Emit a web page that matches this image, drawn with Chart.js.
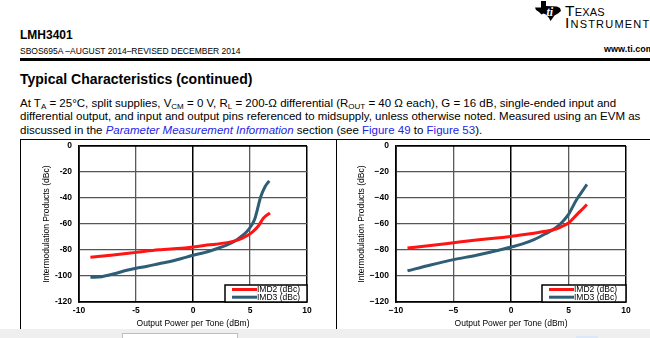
<!DOCTYPE html>
<html><head><meta charset="utf-8">
<script src="https://cdn.jsdelivr.net/npm/chart.js@4/dist/chart.umd.min.js"></script>
<style>
html,body{margin:0;padding:0;background:#fff;width:650px;height:338px;overflow:hidden;font-family:"Liberation Sans",Arial,sans-serif;color:#000}
.a{position:absolute;white-space:nowrap;line-height:1;margin:0}
.p{font-size:11.5px}
sub{font-size:8px;vertical-align:-2px;line-height:0}
.lnk{color:#2323e6}
canvas{position:absolute}
</style>
</head><body>
<svg class="a" style="left:535px;top:1px" width="28" height="20" viewBox="0 0 28 20">
  <path d="M6 0 L11 0 L11 5 L22 5.5 L25 7 L26 10 L23 12.5 L19.5 14.5 L17 18 L15.5 20 L14 17 L11 13.5 L8.5 12.5 L6.5 13.5 L4 11 L1 9 L0 6.5 L6 6.5 Z" fill="#000"/>
  <text x="11.5" y="14.5" font-family="Liberation Serif" font-style="italic" font-weight="bold" font-size="12" fill="#fff">ti</text>
</svg>
<div class="a" style="left:565px;top:3px;font-size:15.5px;font-variant:small-caps;letter-spacing:0.2px">Texas</div>
<div class="a" style="left:565px;top:15px;font-size:15.5px;font-variant:small-caps;letter-spacing:1.2px">Instruments</div>

<div class="a" style="left:20px;top:29px;font-size:12px;font-weight:bold">LMH3401</div>
<div class="a" style="left:20px;top:47px;font-size:8.5px">SBOS695A –AUGUST 2014–REVISED DECEMBER 2014</div>
<div class="a" style="left:604px;top:45px;font-size:9px;font-weight:bold">www.ti.com</div>
<div class="a" style="left:20px;top:57.5px;width:630px;height:3px;background:#000"></div>

<div class="a" style="left:20px;top:71.5px;font-size:14px;font-weight:bold">Typical Characteristics (continued)</div>
<div class="a p" style="left:20px;top:98px">At T<sub>A</sub> = 25°C, split supplies, V<sub>CM</sub> = 0 V, R<sub>L</sub> = 200-Ω differential (R<sub>OUT</sub> = 40 Ω each), G = 16 dB, single-ended input and</div>
<div class="a p" style="left:20px;top:111.3px">differential output, and input and output pins referenced to midsupply, unless otherwise noted. Measured using an EVM as</div>
<div class="a p" style="left:20px;top:124.5px">discussed in the <i class="lnk">Parameter Measurement Information</i> section (see <span class="lnk">Figure 49</span> to <span class="lnk">Figure 53</span>).</div>
<div class="a" style="left:20px;top:139px;width:630px;height:1px;background:#000"></div>
<div class="a" style="left:20px;top:139px;width:1px;height:191px;background:#000"></div>
<div class="a" style="left:336px;top:139px;width:1px;height:191px;background:#000"></div>

<canvas id="c1" width="314" height="195" style="left:21px;top:134px"></canvas>
<canvas id="c2" width="313" height="195" style="left:337px;top:134px"></canvas>

<div class="a" style="left:0;top:329px;width:650px;height:9px;background:#efefef"></div>
<div class="a" style="left:122px;top:333px;width:114px;height:8px;background:#fff;border:1px solid #bdbdbd"></div>
<div class="a" style="left:576px;top:336px;width:22px;height:4px;background:#dce8f7"></div>

<script>
// ---- data ----
const seriesNames = ['IMD2 (dBc)', 'IMD3 (dBc)'];
const xTickValues = [-10, -5, 0, 5, 10];
const yTickValues = [0, -20, -40, -60, -80, -100, -120];
const leftXTickLabels  = ['-10', '-5', '0', '5', '10'];
const leftYTickLabels  = ['0', '-20', '-40', '-60', '-80', '-100', '-120'];
const rightXTickLabels = ['\u221210', '\u22125', '0', '5', '10'];
const rightYTickLabels = ['0', '\u221220', '\u221240', '\u221260', '\u221280', '\u2212100', '\u2212120'];

const leftX_IMD2 = [-9, -7, -5, -3, -1, 0, 1, 2, 3, 3.75, 4.3, 4.85, 5.3, 5.73, 6.17, 6.75];
const leftY_IMD2 = [-85.5, -83.8, -81.8, -79.8, -78.6, -77.7, -76.5, -75.5, -74.3, -72.8, -71, -68.5, -65.5, -61.5, -55.6, -51.5];
const leftX_IMD3 = [-9, -8, -7, -6, -5, -4, -3, -2, -1, 0, 1, 2, 3, 3.75, 4.12, 4.71, 5.15, 5.44, 5.64, 5.94, 6.32, 6.69];
const leftY_IMD3 = [-101, -100.5, -98.5, -96, -94, -92.5, -90.5, -88.8, -86.5, -84, -82, -79.2, -76, -72.6, -70.3, -66, -60.8, -55.6, -49, -39, -31.3, -26.7];

const rightX_IMD2 = [-9, -7, -5, -3, -1, 0, 1, 2, 3, 3.9, 4.5, 5, 5.66, 6.1, 6.6];
const rightY_IMD2 = [-78.5, -76.5, -74.4, -72.3, -70.5, -69.5, -68.3, -67, -65.6, -63.8, -61.5, -59.2, -53.3, -49.5, -45];
const rightX_IMD3 = [-9, -7, -5, -3, -1, 0, 1, 2, 3, 3.9, 4.5, 5, 5.66, 6.1, 6.6];
const rightY_IMD3 = [-96, -91.5, -87.4, -84, -80, -77.7, -75.3, -72, -67.5, -62.8, -58, -52.6, -41.8, -36, -29.5];

const colors = ['#ff1414', '#2e5e75'];
const FONT = '"Liberation Sans", Arial, sans-serif';

function pts(xs, ys){ return xs.map((x,i)=>({x:x, y:ys[i]})); }

const insideLegend = {
  id: 'insideLegend',
  afterDraw(chart, args, o) {
    const ctx = chart.ctx, ca = chart.chartArea;
    const w = o.width, h = 17;
    const x0 = ca.right - w, y0 = ca.bottom - h;
    ctx.save();
    ctx.fillStyle = '#fff';
    ctx.fillRect(x0, y0, w, h);
    ctx.strokeStyle = '#000'; ctx.lineWidth = 1.5;
    ctx.strokeRect(x0, y0, w, h);
    ctx.font = '8.5px ' + FONT;
    ctx.textBaseline = 'middle';
    chart.data.datasets.forEach((ds, i) => {
      const yy = y0 + 4.5 + i * 7.7;
      ctx.strokeStyle = ds.borderColor; ctx.lineWidth = 3;
      ctx.beginPath(); ctx.moveTo(x0 + o.lineStart, yy); ctx.lineTo(x0 + o.lineStart + 25, yy); ctx.stroke();
      ctx.fillStyle = '#000';
      ctx.fillText(ds.label, x0 + o.lineStart + 25, yy + 0.5);
    });
    ctx.restore();
  }
};

function makeChart(id, d2, d3, xl, yl, target, legendW, lineStart, titlePad) {
  const geo = { yW: target.left, xH: 27 };
  const gridColor = (c) => {
    const v = c.tick.value;
    if (v === 0 || v === 10) return '#000';
    return '#5a5a5a';
  };
  const gridColorY = (c) => (c.tick.value === 0 ? '#000' : '#555');
  const canvas = document.getElementById(id);
  const pad = { left: 0, right: canvas.width - target.right, top: target.top, bottom: 0 };
  const opts = {
      responsive: false, animation: false, devicePixelRatio: 1,
      layout: { padding: pad },
      plugins: { legend: { display: false }, tooltip: { enabled: false },
        insideLegend: { width: legendW, lineStart: lineStart } },
      scales: {
        x: {
          type: 'linear', min: -10, max: 10,
          afterBuildTicks: s => { s.ticks = xTickValues.map(v => ({value: v})); },
          afterFit: s => { s.height = geo.xH; },
          ticks: { padding: 4, color: '#000', font: { family: FONT, size: 8.5, weight: 'bold' },
            callback: v => xl[xTickValues.indexOf(v)], maxRotation: 0, autoSkip: false },
          grid: { drawTicks: false, color: gridColor, lineWidth: c => (c.tick.value === 0 || c.tick.value === 10) ? 1.5 : 1.3 },
          border: { color: '#000', width: 1.8 },
          title: { display: true, text: 'Output Power per Tone (dBm)', color: '#000',
            font: { family: FONT, size: 8.5 }, padding: { top: 0, bottom: 0 } }
        },
        y: {
          type: 'linear', min: -120, max: 0,
          afterBuildTicks: s => { s.ticks = yTickValues.map(v => ({value: v})); },
          afterFit: s => { s.width = geo.yW; },
          ticks: { padding: 7, color: '#000', font: { family: FONT, size: 8.5, weight: 'bold' },
            callback: v => yl[yTickValues.indexOf(v)], autoSkip: false },
          grid: { drawTicks: false, color: gridColorY, lineWidth: c => c.tick.value === 0 ? 1.8 : 1.3 },
          border: { color: '#000', width: 1.8 },
          title: { display: true, text: 'Intermodulation Products (dBc)', color: '#000',
            font: { family: FONT, size: 8.5 }, padding: { top: titlePad, bottom: 0 } }
        }
      }
    };
  const chart = new Chart(canvas, {
    type: 'line',
    data: { datasets: [
      { label: seriesNames[0], data: d2, borderColor: colors[0], borderWidth: 3, pointRadius: 0, cubicInterpolationMode: 'monotone', fill: false },
      { label: seriesNames[1], data: d3, borderColor: colors[1], borderWidth: 3, pointRadius: 0, cubicInterpolationMode: 'monotone', fill: false }
    ]},
    options: opts,
    plugins: [insideLegend]
  });
  // nudge the layout so the plot area lands where it sits in the reference
  for (let k = 0; k < 4; k++) {
    const ca = chart.chartArea;
    pad.top += target.top - ca.top;
    pad.right += ca.right - target.right;
    geo.xH += ca.bottom - target.bottom;
    geo.yW += target.left - ca.left;
    chart.options.layout.padding = Object.assign({}, pad);
    chart.update();
  }
}

// plot-area targets in canvas pixels (canvas top is at page y=134)
makeChart('c1', pts(leftX_IMD2, leftY_IMD2), pts(leftX_IMD3, leftY_IMD3), leftXTickLabels, leftYTickLabels,
  {left: 58, right: 286, top: 12, bottom: 168}, 82, 7, 20.5);
makeChart('c2', pts(rightX_IMD2, rightY_IMD2), pts(rightX_IMD3, rightY_IMD3), rightXTickLabels, rightYTickLabels,
  {left: 59, right: 289, top: 12, bottom: 168}, 84, 7, 19.5);
</script>
</body></html>
